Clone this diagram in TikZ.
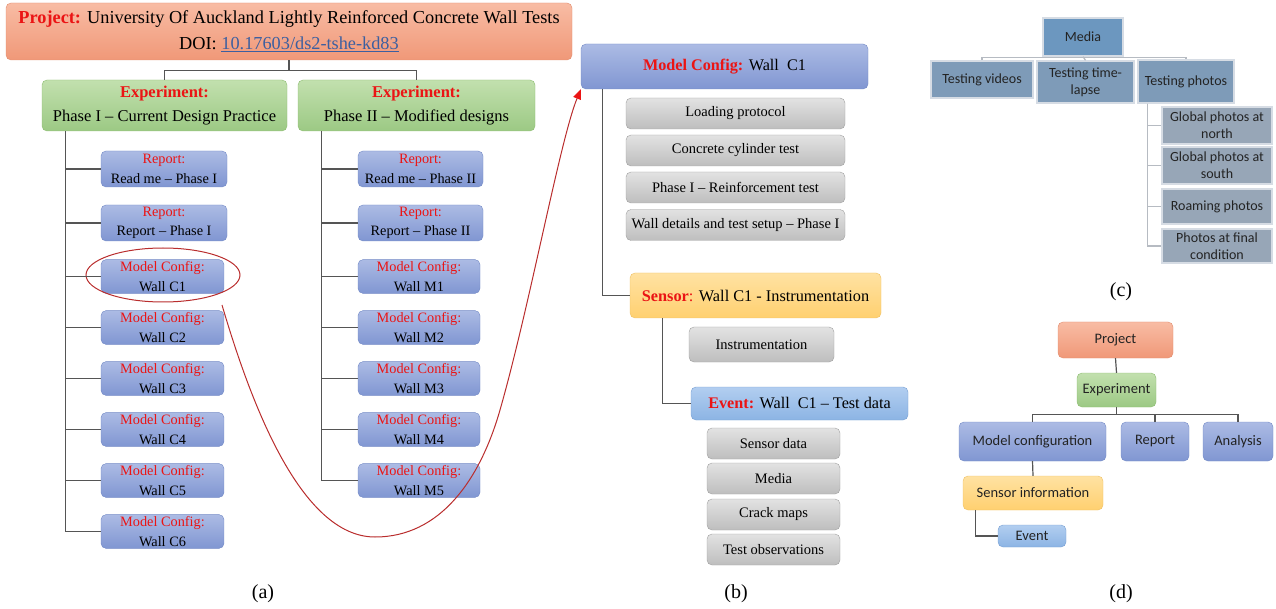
\documentclass[tikz,border=0pt]{standalone}
\usepackage{fontspec}
\setmainfont{Liberation Serif}
\newfontfamily\calib{Carlito}
\usetikzlibrary{arrows.meta,shapes.geometric}

\definecolor{tagred}{RGB}{235,20,20}
\definecolor{doiblue}{RGB}{60,95,160}
\definecolor{salmontop}{RGB}{248,188,164}
\definecolor{salmonbot}{RGB}{240,152,120}
\definecolor{salmonline}{RGB}{225,140,110}
\definecolor{greentop}{RGB}{194,224,174}
\definecolor{greenbot}{RGB}{156,201,132}
\definecolor{greenline}{RGB}{140,188,112}
\definecolor{bluetop}{RGB}{172,187,228}
\definecolor{bluebot}{RGB}{128,150,210}
\definecolor{blueline}{RGB}{115,138,198}
\definecolor{greytop}{RGB}{226,226,226}
\definecolor{greybot}{RGB}{190,190,190}
\definecolor{greyline}{RGB}{160,160,160}
\definecolor{yellowtop}{RGB}{255,226,162}
\definecolor{yellowbot}{RGB}{255,208,112}
\definecolor{yellowline}{RGB}{238,192,100}
\definecolor{skytop}{RGB}{178,206,240}
\definecolor{skybot}{RGB}{140,180,228}
\definecolor{skyline}{RGB}{118,158,210}
\definecolor{treegrey}{RGB}{85,85,85}
\definecolor{ringred}{RGB}{185,45,45}
\definecolor{mediafill}{RGB}{108,151,191}
\definecolor{testfill}{RGB}{126,155,184}
\definecolor{photofill}{RGB}{151,166,183}
\definecolor{mediaedge}{RGB}{214,220,228}
\definecolor{inkdark}{RGB}{35,35,35}

\newcommand{\kind}[1]{\textcolor{tagred}{#1}}

\begin{document}
\begin{tikzpicture}[
        x=1pt, y=-1pt,
        box/.style={
            rectangle,
            rounded corners=5pt,
            align=center,
            inner sep=2pt
        },
        projbox/.style={
            box,
            draw=salmonline,
            top color=salmontop,
            bottom color=salmonbot
        },
        expbox/.style={
            box,
            draw=greenline,
            top color=greentop,
            bottom color=greenbot
        },
        cfgbox/.style={
            box,
            draw=blueline,
            top color=bluetop,
            bottom color=bluebot
        },
        itembox/.style={
            box,
            draw=greyline,
            top color=greytop,
            bottom color=greybot,
            minimum height=31pt,
            font=\fontsize{14.5}{17}\selectfont
        },
        sensbox/.style={
            box,
            draw=yellowline,
            top color=yellowtop,
            bottom color=yellowbot
        },
        evbox/.style={
            box,
            draw=skyline,
            top color=skytop,
            bottom color=skybot
        },
        leaf/.style={
            cfgbox,
            minimum height=33pt,
            font=\fontsize{14.3}{19.5}\selectfont
        },
        mbox/.style={
            rectangle,
            draw=mediaedge,
            line width=1.5pt,
            align=center,
            inner sep=2pt,
            text=inkdark,
            font=\calib\fontsize{14}{17}\selectfont
        },
        dfont/.style={
            text=inkdark,
            font=\calib\fontsize{14.5}{17}\selectfont
        },
        tree/.style={
            draw=treegrey,
            line width=1.2pt
        },
        mtree/.style={
            draw=mediaedge!85!black,
            line width=1.2pt
        },
        link/.style={
            draw=ringred,
            line width=1pt,
            -{Triangle[length=10pt,width=8pt,color=tagred]}
        },
        caption/.style={
            font=\fontsize{20}{22}\selectfont
        }
    ]

        \useasboundingbox (0,0) rectangle (1276,609);

        \node[projbox, minimum width=566pt, minimum height=57pt, font=\fontsize{18.3}{26}\selectfont] (proj) at (289,31.5)
            {\textbf{\kind{Project:}} University Of Auckland Lightly Reinforced Concrete Wall Tests\\DOI: \textcolor{doiblue}{\underline{10.17603/ds2-tshe-kd83}}};
        \node[expbox, minimum width=245pt, minimum height=51pt, font=\fontsize{16.5}{24}\selectfont] (ph1) at (164.5,105.5)
            {\textbf{\kind{Experiment:}}\\Phase I -- Current Design Practice};
        \node[expbox, minimum width=237pt, minimum height=51pt, font=\fontsize{16.5}{24}\selectfont] (ph2) at (416.5,105.5)
            {\textbf{\kind{Experiment:}}\\Phase II -- Modified designs};

        \node[leaf, minimum width=126pt, minimum height=36pt] (rd1) at (164,169) {\kind{Report:}\\Read me -- Phase I};
        \node[leaf, minimum width=126pt, minimum height=36pt] (rp1) at (164,223) {\kind{Report:}\\Report -- Phase I};
        \node[leaf, minimum width=123pt] (c1) at (162.5,276.5) {\kind{Model Config:}\\Wall C1};
        \node[leaf, minimum width=123pt] (c2) at (162.5,327.5) {\kind{Model Config:}\\Wall C2};
        \node[leaf, minimum width=123pt] (c3) at (162.5,378.5) {\kind{Model Config:}\\Wall C3};
        \node[leaf, minimum width=123pt] (c4) at (162.5,429.5) {\kind{Model Config:}\\Wall C4};
        \node[leaf, minimum width=123pt] (c5) at (162.5,480.5) {\kind{Model Config:}\\Wall C5};
        \node[leaf, minimum width=123pt] (c6) at (162.5,531.5) {\kind{Model Config:}\\Wall C6};

        \node[leaf, minimum width=125pt, minimum height=36pt] (rd2) at (420.5,169) {\kind{Report:}\\Read me -- Phase II};
        \node[leaf, minimum width=125pt, minimum height=36pt] (rp2) at (420.5,223) {\kind{Report:}\\Report -- Phase II};
        \node[leaf, minimum width=122pt] (m1) at (419,276.5) {\kind{Model Config:}\\Wall M1};
        \node[leaf, minimum width=122pt] (m2) at (419,327.5) {\kind{Model Config:}\\Wall M2};
        \node[leaf, minimum width=122pt] (m3) at (419,378.5) {\kind{Model Config:}\\Wall M3};
        \node[leaf, minimum width=122pt] (m4) at (419,429.5) {\kind{Model Config:}\\Wall M4};
        \node[leaf, minimum width=122pt] (m5) at (419,480.5) {\kind{Model Config:}\\Wall M5};

        \node[ellipse, draw=ringred, line width=1pt, minimum width=154pt, minimum height=54pt] (ring) at (163,275) {};

        \draw[tree] (proj.south) -- ++(0,10) -| (ph1.north);
        \draw[tree] (proj.south) -- ++(0,10) -| (ph2.north);
        \foreach \n in {rd1,rp1,c1,c2,c3,c4,c5,c6}
            \draw[tree] ([xshift=24pt]ph1.south west) |- (\n.west);
        \foreach \n in {rd2,rp2,m1,m2,m3,m4,m5}
            \draw[tree] ([xshift=24pt]ph2.south west) |- (\n.west);

        \node[cfgbox, minimum width=287pt, minimum height=45pt, font=\fontsize{16.2}{20}\selectfont] (mcfg) at (724.5,66.5)
            {\textbf{\kind{Model Config:}} Wall~~C1};
        \node[itembox, minimum width=219pt] (load) at (735.5,113.5) {Loading protocol};
        \node[itembox, minimum width=219pt] (cyl) at (735.5,150.5) {Concrete cylinder test};
        \node[itembox, minimum width=219pt] (reinf) at (735.5,187.5) {Phase I -- Reinforcement test};
        \node[itembox, minimum width=219pt] (setup) at (735.5,225) {Wall details and test setup -- Phase I};

        \node[sensbox, minimum width=251pt, minimum height=45pt, font=\fontsize{16.3}{20}\selectfont] (sens) at (755.5,295.5)
            {\textbf{\kind{Sensor}}\kind{:} Wall C1 - Instrumentation};
        \node[itembox, minimum width=145pt, minimum height=35pt] (instr) at (761.5,344.5) {Instrumentation};
        \node[evbox, minimum width=217pt, minimum height=33pt, font=\fontsize{16.2}{20}\selectfont] (evt) at (799.5,403.5)
            {\textbf{\kind{Event:}} Wall~~C1 -- Test data};
        \node[itembox, minimum width=133pt] (sdata) at (773.5,443.5) {Sensor data};
        \node[itembox, minimum width=133pt] (media) at (773.5,478.5) {Media};
        \node[itembox, minimum width=133pt] (crack) at (773.5,514.5) {Crack maps};
        \node[itembox, minimum width=133pt] (obs) at (773.5,549.5) {Test observations};

        \draw[tree] ([xshift=22pt]mcfg.south west) |- (sens.west);
        \draw[tree] ([xshift=33pt]sens.south west) |- (evt.west);

        \coordinate (tail) at (222,305);
        \draw[link] (tail) .. controls (250,400) and (300,537) .. (375,537)
            .. controls (440,537) and (480,480) .. (500,410)
            .. controls (530,305) and (560,140) .. (mcfg.south west);

        \node[mbox, fill=mediafill, minimum width=80pt, minimum height=38pt] (mroot) at (1083,37) {Media};
        \node[mbox, fill=testfill, minimum width=102pt, minimum height=37pt] (tvid) at (982,79.5) {Testing videos};
        \node[mbox, fill=testfill, minimum width=97pt, minimum height=42pt] (tlapse) at (1085.5,82) {Testing time-\\lapse};
        \node[mbox, fill=testfill, minimum width=96pt, minimum height=43pt] (tphot) at (1186,81.5) {Testing photos};
        \node[mbox, fill=photofill, minimum width=110pt, minimum height=37pt] (gnorth) at (1217,125.5) {Global photos at\\north};
        \node[mbox, fill=photofill, minimum width=110pt, minimum height=37pt] (gsouth) at (1217,165.5) {Global photos at\\south};
        \node[mbox, fill=photofill, minimum width=110pt, minimum height=35pt] (roam) at (1217,206.5) {Roaming photos};
        \node[mbox, fill=photofill, minimum width=110pt, minimum height=34pt] (pfinal) at (1217,246) {Photos at final\\condition};

        \draw[mtree] (tvid.north) -- ++(0,-3) -| (tphot.north);
        \draw[mtree] (mroot.south) -- (tlapse.north);
        \foreach \n in {gnorth,gsouth,roam,pfinal}
            \draw[mtree] ([xshift=10pt]tphot.south west) |- (\n.west);

        \node[projbox, dfont, minimum width=115pt, minimum height=36pt] (dproj) at (1115.5,340) {Project};
        \node[expbox, dfont, minimum width=79pt, minimum height=34pt] (dexp) at (1116.5,390) {Experiment};
        \node[cfgbox, dfont, minimum width=147pt, minimum height=39pt] (dmod) at (1032.5,441.5) {Model configuration};
        \node[cfgbox, dfont, minimum width=68pt, minimum height=39pt] (drep) at (1155,441.5) {Report};
        \node[cfgbox, dfont, minimum width=70pt, minimum height=39pt] (dana) at (1238,441.5) {Analysis};
        \node[sensbox, dfont, minimum width=140pt, minimum height=34pt] (dsens) at (1033,493) {Sensor information};
        \node[evbox, dfont, minimum width=68pt, minimum height=22pt] (devt) at (1032,536) {Event};

        \draw[tree] (dproj.south) -- (dexp.north);
        \draw[tree] (dexp.south) -- ++(0,7) -| (dmod.north);
        \draw[tree] (dexp.south) -- ++(0,7) -| (drep.north);
        \draw[tree] (dexp.south) -- ++(0,7) -| (dana.north);
        \draw[tree] (dmod.south) -- (dsens.north);
        \draw[tree] ([xshift=13pt]dsens.south west) |- (devt.west);

        \node[caption] (capa) at (263,594) {(a)};
        \node[caption] (capb) at (736,594) {(b)};
        \node[caption] (capc) at (1121,292) {(c)};
        \node[caption] (capd) at (1121,594) {(d)};

    \end{tikzpicture}
\end{document}
